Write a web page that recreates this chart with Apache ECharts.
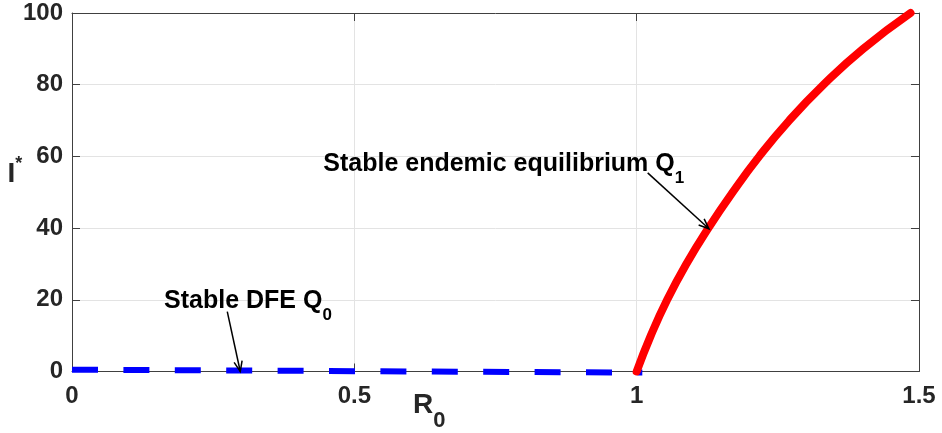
<!DOCTYPE html>
<html><head><meta charset="utf-8">
<script src="https://cdn.jsdelivr.net/npm/echarts@6/dist/echarts.min.js"></script>
<style>html,body{margin:0;padding:0;background:#fff}#c{width:942px;height:433px}</style>
</head><body><div id="c"></div>
<script>
// ---- data ----
const xTicks = [0, 0.5, 1, 1.5];
const yTicks = [0, 20, 40, 60, 80, 100];
const dfeR0 = [0, 1.01];
const dfeI = [0.5, -0.3];
const endemicR0 = [1.000, 1.025, 1.054, 1.088, 1.127, 1.170, 1.217, 1.270, 1.331, 1.401, 1.485];
const endemicI  = [0,     10,    20,    30,    40,    50,    60,    70,    80,    90,    100];
const labelQ1 = { text: 'Stable endemic equilibrium Q', sub: '1', at: [0.445, 57.9] };
const arrowQ1 = [[1.0195, 55.4], [1.128, 39.8]];
const labelQ0 = { text: 'Stable DFE Q', sub: '0', at: [0.163, 19.5] };
const arrowQ0 = [[0.275, 16.7], [0.298, 0]];
const xTitle = { main: 'R', sub: '0' };
const yTitle = { main: 'I', sup: '*' };

const FONT = '"Liberation Sans", Arial, Helvetica, sans-serif';
const AX = '#404040';
const chart = echarts.init(document.getElementById('c'), null, { renderer: 'canvas' });

function zip(a, b) { return a.map((v, i) => [v, b[i]]); }

const baseAxis = {
  type: 'value',
  axisLine: { show: true, onZero: false, lineStyle: { color: AX, width: 1 } },
  axisTick: { show: true, inside: true, length: 8, lineStyle: { color: AX, width: 1 } },
  axisLabel: { show: false },
  splitLine: { show: false }
};

chart.setOption({
  animation: false,
  backgroundColor: '#fff',
  grid: { left: 72, top: 13, right: 23, bottom: 61.5, containLabel: false },
  xAxis: [
    Object.assign({}, baseAxis, {
      position: 'bottom', min: xTicks[0], max: xTicks[xTicks.length - 1], interval: 0.5,
      axisLabel: { show: true, fontSize: 24, fontWeight: 'bold', color: '#262626', fontFamily: FONT, margin: 13 },
      splitLine: { show: true, lineStyle: { color: '#e3e3e3', width: 1 } }
    }),
    Object.assign({}, baseAxis, {
      position: 'top', min: xTicks[0], max: xTicks[xTicks.length - 1], interval: 0.5
    })
  ],
  yAxis: [
    Object.assign({}, baseAxis, {
      position: 'left', min: yTicks[0], max: yTicks[yTicks.length - 1], interval: 20,
      axisLabel: { show: true, fontSize: 24, fontWeight: 'bold', color: '#262626', fontFamily: FONT, margin: 9 },
      splitLine: { show: true, lineStyle: { color: '#e3e3e3', width: 1 } }
    }),
    Object.assign({}, baseAxis, {
      position: 'right', min: yTicks[0], max: yTicks[yTicks.length - 1], interval: 20
    })
  ],
  series: [
    {
      type: 'line', xAxisIndex: 0, yAxisIndex: 0, data: zip(dfeR0, dfeI),
      showSymbol: false, clip: false, z: 3,
      lineStyle: { color: '#0000ff', width: 6, type: [26, 25.4], cap: 'butt' }
    },
    {
      type: 'line', xAxisIndex: 0, yAxisIndex: 0, data: zip(endemicR0, endemicI),
      showSymbol: false, smooth: 0.5, clip: false, z: 4,
      lineStyle: { color: '#ff0000', width: 8, cap: 'round', join: 'round' }
    }
  ]
});

function px(p) { return chart.convertToPixel({ gridIndex: 0 }, p); }

function arrow(seg) {
  const a = px(seg[0]), b = px(seg[1]);
  const ang = Math.atan2(b[1] - a[1], b[0] - a[0]);
  const L = 11, h = 0.38;
  const p1 = [b[0] - L * Math.cos(ang - h), b[1] - L * Math.sin(ang - h)];
  const p2 = [b[0] - L * Math.cos(ang + h), b[1] - L * Math.sin(ang + h)];
  return [
    { type: 'line', z: 10, shape: { x1: a[0], y1: a[1], x2: b[0], y2: b[1] }, style: { stroke: '#000', lineWidth: 1.5 } },
    { type: 'polyline', z: 10, shape: { points: [p1, b, p2] }, style: { stroke: '#000', lineWidth: 1.5, fill: null } }
  ];
}

function annot(lab) {
  const p = px(lab.at);
  return {
    type: 'text', z: 10, x: p[0], y: p[1] - 12.5,
    style: {
      text: '{m|' + lab.text + '}{s|' + lab.sub + '}',
      align: 'left', verticalAlign: 'top',
      rich: {
        m: { fontSize: 25, fontWeight: 'bold', fontFamily: FONT, fill: '#000', lineHeight: 25, verticalAlign: 'top' },
        s: { fontSize: 17, fontWeight: 'bold', fontFamily: FONT, fill: '#000', lineHeight: 35, verticalAlign: 'bottom' }
      }
    }
  };
}

const g = [];
g.push(...arrow(arrowQ1), ...arrow(arrowQ0));
g.push(annot(labelQ1), annot(labelQ0));
g.push({
  type: 'text', z: 10, x: 413, y: 391,
  style: {
    text: '{m|' + xTitle.main + '}{s|' + xTitle.sub + '}', align: 'left', verticalAlign: 'top',
    rich: {
      m: { fontSize: 28, fontWeight: 'bold', fontFamily: FONT, fill: '#262626', lineHeight: 28, verticalAlign: 'top' },
      s: { fontSize: 22, fontWeight: 'bold', fontFamily: FONT, fill: '#262626', lineHeight: 41, verticalAlign: 'bottom' }
    }
  }
});
g.push({
  type: 'text', z: 10, x: 7.5, y: 155,
  style: {
    text: '{m|' + yTitle.main + '}{s|' + yTitle.sup + '}', align: 'left', verticalAlign: 'top',
    rich: {
      m: { fontSize: 28, fontWeight: 'bold', fontFamily: FONT, fill: '#262626', lineHeight: 33, verticalAlign: 'bottom' },
      s: { fontSize: 18, fontWeight: 'bold', fontFamily: FONT, fill: '#262626', lineHeight: 18, verticalAlign: 'top' }
    }
  }
});
chart.setOption({ graphic: g });
</script>
</body></html>
